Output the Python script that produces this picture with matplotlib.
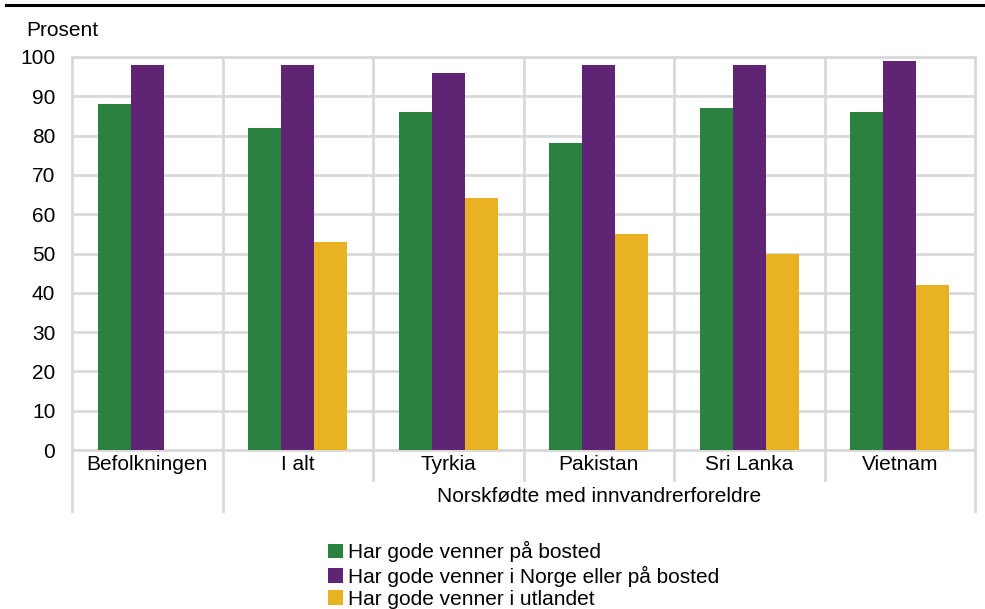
import numpy as np
import matplotlib
matplotlib.use('Agg')
import matplotlib.pyplot as plt
from matplotlib.lines import Line2D

plt.rcParams['font.family'] = ['Liberation Sans', 'DejaVu Sans']

categories = ['Befolkningen', 'I alt', 'Tyrkia', 'Pakistan', 'Sri Lanka', 'Vietnam']
group_label = 'Norskfødte med innvandrerforeldre'
series_names = ['Har gode venner på bosted',
                'Har gode venner i Norge eller på bosted',
                'Har gode venner i utlandet']
bosted = [88, 82, 86, 78, 87, 86]
norge = [98, 98, 96, 98, 98, 99]
utland = [np.nan, 53, 64, 55, 50, 42]
colors = ['#2a8140', '#5f2574', '#e9b223']
grid_c = '#d9d9d9'
fs = 15

W, H = 985, 609
fig = plt.figure(figsize=(W / 100, H / 100), dpi=100)
L, R, T, B = 72, 975, 57, 450
ax = fig.add_axes([L / W, 1 - B / H, (R - L) / W, (B - T) / H])

x = np.arange(len(categories))
w = 0.22
for i, (vals, c) in enumerate(zip([bosted, norge, utland], colors)):
    ax.bar(x + (i - 1) * w, vals, width=w, color=c, label=series_names[i], zorder=3)

ax.set_xlim(-0.5, len(categories) - 0.5)
ax.set_ylim(0, 100)
ax.set_yticks(range(0, 101, 10))
ax.yaxis.grid(True, color=grid_c, linewidth=2, zorder=0)
for b in np.arange(0.5, len(categories) - 0.5):
    ax.axvline(b, color=grid_c, linewidth=2, zorder=0)
for s in ax.spines.values():
    s.set_color(grid_c)
    s.set_linewidth(2)
ax.tick_params(axis='y', length=0, labelsize=fs, pad=12)
ax.set_xticks([])

# two-level category axis
def ypx(p):
    return (B - p) / (B - T)

for k, cat in enumerate(categories):
    ax.text(k, ypx(465), cat, transform=ax.get_xaxis_transform(),
            ha='center', va='center', fontsize=fs)
ax.text(3.0, ypx(496), group_label, transform=ax.get_xaxis_transform(),
        ha='center', va='center', fontsize=fs)
for b in [-0.5, 0.5, 5.5]:
    ax.add_line(Line2D([b, b], [0, ypx(511)], transform=ax.get_xaxis_transform(),
                       color=grid_c, linewidth=2, clip_on=False))
for b in [1.5, 2.5, 3.5, 4.5]:
    ax.add_line(Line2D([b, b], [0, ypx(480)], transform=ax.get_xaxis_transform(),
                       color=grid_c, linewidth=2, clip_on=False))

fig.text(26 / W, 1 - 31 / H, 'Prosent', fontsize=fs, ha='left', va='center')
fig.add_artist(Line2D([6 / W, 1.0], [1 - 5 / H, 1 - 5 / H], color='black', linewidth=2.2))

handles, labels = ax.get_legend_handles_labels()
fig.legend(handles, labels, loc='upper left', bbox_to_anchor=(318 / W, 1 - 531 / H),
           frameon=False, fontsize=fs, handlelength=0.7, handleheight=0.7,
           handletextpad=0.25, labelspacing=0.15, borderpad=0)

fig.savefig('out.png', dpi=100)
